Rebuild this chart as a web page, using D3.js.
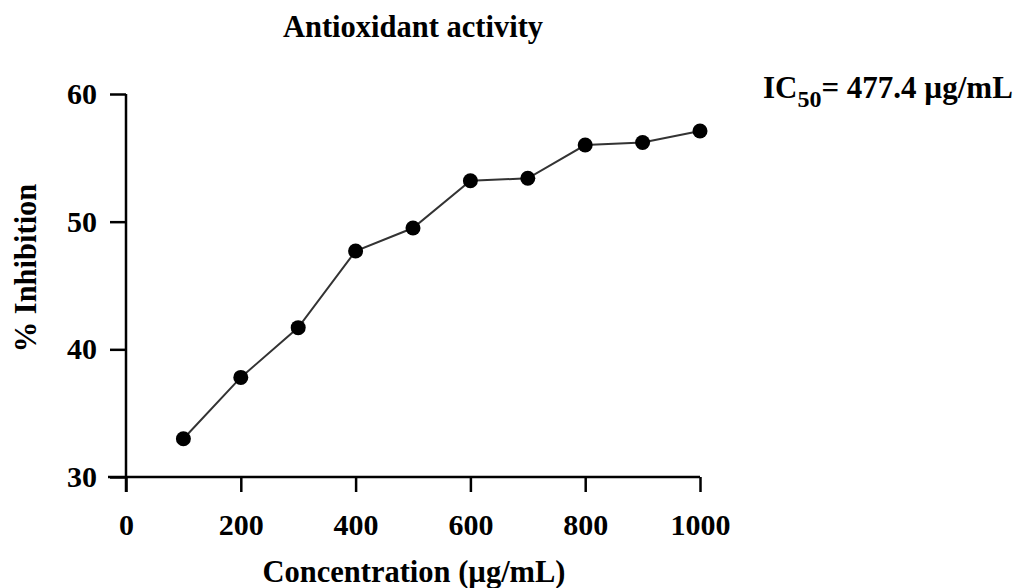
<!DOCTYPE html>
<html><head><meta charset="utf-8">
<script src="https://cdn.jsdelivr.net/npm/d3@7"></script>
<style>
body{margin:0;background:#fff;}
text{font-family:"Liberation Serif","Times New Roman",serif;font-weight:bold;fill:#000;}
</style></head>
<body>
<svg id="c" width="1014" height="588"></svg>
<script>
const concentrations = [100,200,300,400,500,600,700,800,900,1000];
const inhibition = [33.0,37.8,41.7,47.7,49.5,53.2,53.4,56.0,56.2,57.1];
const xTicks = [0,200,400,600,800,1000];
const yTicks = [30,40,50,60];
const title = "Antioxidant activity";
const xLabel = "Concentration (µg/mL)";
const yLabel = "% Inhibition";

const svg = d3.select("#c");
const x = d3.scaleLinear().domain([0,1000]).range([126,700]);
const y = d3.scaleLinear().domain([30,60]).range([477,94]);

const xa = svg.append("g").attr("transform","translate(0,477)")
  .call(d3.axisBottom(x).tickValues(xTicks).tickFormat(d3.format("d")).tickSize(15).tickSizeOuter(0).tickPadding(22));
const ya = svg.append("g").attr("transform","translate(126,0)")
  .call(d3.axisLeft(y).tickValues(yTicks).tickFormat(d3.format("d")).tickSize(16).tickSizeOuter(0).tickPadding(13));
[xa,ya].forEach(g=>{
  g.selectAll("path,line").attr("stroke","#000").attr("stroke-width",2.5);
  g.selectAll("text").style("font-size","30px").attr("fill","#000");
});
xa.select(".domain").attr("d",`M${126-18},0H700`);
ya.select(".domain").attr("d",`M0,${94}V${477+15}`);

const data = concentrations.map((c,i)=>({c,v:inhibition[i]}));
svg.append("path").datum(data)
  .attr("fill","none").attr("stroke","#333").attr("stroke-width",2)
  .attr("d",d3.line().x(d=>x(d.c)).y(d=>y(d.v)));
svg.selectAll("circle.pt").data(data).enter().append("circle")
  .attr("class","pt").attr("cx",d=>x(d.c)).attr("cy",d=>y(d.v)).attr("r",7.5).attr("fill","#000");

svg.append("text").attr("x",413).attr("y",37).attr("text-anchor","middle")
  .style("font-size","30.5px").text(title);
svg.append("text").attr("x",414).attr("y",582).attr("text-anchor","middle")
  .style("font-size","30.5px").text(xLabel);
svg.append("text").attr("transform","translate(36,268) rotate(-90)").attr("text-anchor","middle")
  .style("font-size","30.5px").text(yLabel);

const ic = svg.append("text").attr("x",763).attr("y",98).style("font-size","31px");
ic.append("tspan").text("IC");
ic.append("tspan").attr("dy",9).style("font-size","24px").text("50");
ic.append("tspan").attr("dy",-9).text("= 477.4 µg/mL");
</script>
</body></html>
